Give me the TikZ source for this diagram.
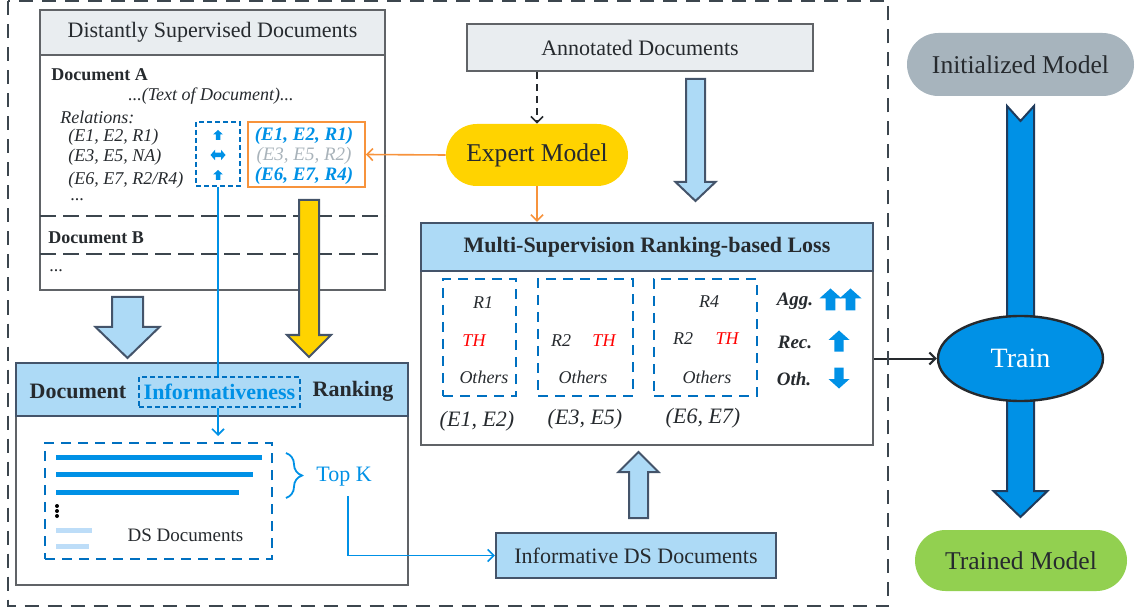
\documentclass[tikz,border=0pt]{standalone}
\usepackage{fontspec}
\setmainfont{Liberation Serif}
\usepackage{tikz}
\usetikzlibrary{shapes.geometric, shapes.misc, arrows.meta, positioning, decorations.pathreplacing}

\definecolor{edgegray}{HTML}{606367}
\definecolor{slate}{HTML}{44546A}
\definecolor{navyline}{HTML}{1F3B5C}
\definecolor{headgray}{HTML}{E9EDF0}
\definecolor{headblue}{HTML}{ADDAF6}
\definecolor{goldy}{HTML}{FFD300}
\definecolor{brightblue}{HTML}{0091E6}
\definecolor{dashblue}{HTML}{0070C0}
\definecolor{softblue}{HTML}{BDDDF8}
\definecolor{orangeline}{HTML}{F7933C}
\definecolor{initgray}{HTML}{A7B4BD}
\definecolor{leafgreen}{HTML}{92D050}
\definecolor{paleword}{HTML}{A9B3BA}
\definecolor{inkdark}{HTML}{262A2E}
\definecolor{outerdash}{HTML}{3C464E}

\newcommand{\szsmall}{\fontsize{9}{11}\selectfont}
\newcommand{\szmid}{\fontsize{11}{13}\selectfont}
\newcommand{\szpill}{\fontsize{12.8}{15}\selectfont}

\tikzstyle{panel} = [draw=edgegray, line width=1.2pt, inner sep=0pt]
\tikzstyle{graybar} = [panel, fill=headgray, font=\szmid]
\tikzstyle{bluebar} = [draw=slate, line width=1.2pt, fill=headblue, inner sep=0pt, font=\szmid]
\tikzstyle{headtxt} = [font=\szmid\bfseries, inner sep=0pt]
\tikzstyle{pill} = [rounded rectangle, inner sep=0pt, font=\szpill]
\tikzstyle{dashbox} = [draw=dashblue, line width=1pt, dash pattern=on 5pt off 3.5pt, inner sep=0pt]
\tikzstyle{finedash} = [draw=dashblue, line width=0.8pt, dash pattern=on 2.5pt off 1.5pt, inner sep=0pt]
\tikzstyle{ital} = [font=\szsmall\itshape, inner sep=0pt]
\tikzstyle{boldtxt} = [font=\szsmall\bfseries, inner sep=0pt]
\tikzstyle{boldital} = [font=\fontsize{9.5}{11}\selectfont\bfseries\itshape, inner sep=0pt]
\tikzstyle{pairtxt} = [font=\szmid\itshape, inner sep=0pt]
\tikzstyle{arrow} = [-{Straight Barb[length=3pt,width=6pt]}, line width=0.8pt]
\tikzstyle{listbar} = [line width=2.5pt, brightblue]
\tikzstyle{blockline} = [draw=slate, line width=1pt, line join=miter]

% block arrow: x, tail y, head base y, tip y, half shaft, half head, fill
\newcommand{\blockarrow}[7]{%
  \draw[blockline, fill=#7] (#1-#5,#2) -- (#1+#5,#2) -- (#1+#5,#3) -- (#1+#6,#3)
    -- (#1,#4) -- (#1-#6,#3) -- (#1-#5,#3) -- cycle;}
\newcommand{\fatup}[3]{%
  \fill[brightblue, shift={(#1,#2)}, scale=#3] (0,-1) -- (1,-0.1) -- (0.45,-0.1)
    -- (0.45,1) -- (-0.45,1) -- (-0.45,-0.1) -- (-1,-0.1) -- cycle;}
\newcommand{\fatboth}[3]{%
  \fill[brightblue, shift={(#1,#2)}, scale=#3] (-1,0) -- (-0.4,-0.7) -- (-0.4,-0.3)
    -- (0.4,-0.3) -- (0.4,-0.7) -- (1,0) -- (0.4,0.7) -- (0.4,0.3) -- (-0.4,0.3)
    -- (-0.4,0.7) -- cycle;}

\begin{document}
\begin{tikzpicture}[x=0.5pt, y=-0.5pt, every node/.style={text=inkdark}]
  \useasboundingbox (0,0) rectangle (1137,610);

  % distantly supervised documents
  \node[panel, minimum width=172.5pt, minimum height=140pt] (dsd) at (212.5,150) {};
  \node[graybar, minimum width=172.5pt, minimum height=22.5pt] (dsdhead) at (212.5,32.5) {Distantly Supervised Documents};
  \draw[outerdash, line width=1pt, dash pattern=on 8pt off 3.5pt] (40,216) -- (385,216);
  \draw[outerdash, line width=1pt, dash pattern=on 8pt off 3.5pt] (40,254) -- (385,254);
  \node[boldtxt, anchor=west] (docA) at (51,75) {Document A};
  \node[ital] (doctext) at (211,96) {...(Text of Document)...};
  \node[ital, anchor=west] (rel) at (60,117) {Relations:};
  \node[ital, anchor=west] (relA) at (68,137) {(E1, E2, R1)};
  \node[ital, anchor=west] (relB) at (68,157) {(E3, E5, NA)};
  \node[ital, anchor=west] (relC) at (68,180) {(E6, E7, R2/R4)};
  \node[font=\szsmall, inner sep=0pt, anchor=west] (relmore) at (70,200) {...};
  \node[boldtxt, anchor=west] (docB) at (48,238) {Document B};
  \node[font=\szsmall, inner sep=0pt, anchor=west] (docmore) at (49,271) {...};

  \node[finedash, minimum width=22pt, minimum height=32pt] (flag) at (218,154) {};
  \fatup{218}{135}{5}
  \fatboth{218}{155}{7.5}
  \fatup{218}{175}{5}

  \node[draw=orangeline, line width=0.8pt, minimum width=58.5pt, minimum height=32.5pt, inner sep=0pt] (picked) at (306.5,154.5) {};
  \node[boldital, text=brightblue] (pickA) at (304,136) {(E1, E2, R1)};
  \node[ital, font=\fontsize{9.5}{11}\selectfont\itshape, text=paleword] (pickB) at (304,156) {(E3, E5, R2)};
  \node[boldital, text=brightblue] (pickC) at (304,176) {(E6, E7, R4)};

  % annotated side
  \node[graybar, minimum width=173pt, minimum height=23.5pt] (annot) at (640,47.5) {Annotated Documents};
  \node[pill, fill=goldy, minimum width=91pt, minimum height=31pt] (expert) at (537,155) {Expert Model};
  \draw[arrow, inkdark, dash pattern=on 3.5pt off 2.5pt] (expert.north |- annot.south) -- (expert.north);
  \draw[arrow, orangeline] (expert.west) -- (picked.east);
  \blockarrow{695.5}{79}{182}{201}{9.5}{20}{headblue}

  % loss
  \node[panel, minimum width=226pt, minimum height=111pt] (msrl) at (647,334) {};
  \node[bluebar, font=\szmid\bfseries, minimum width=226pt, minimum height=24pt] (msrlhead) at (647,247) {Multi-Supervision Ranking-based Loss};
  \draw[arrow, orangeline] (expert.south) -- (expert.south |- msrlhead.north);

  \node[dashbox, minimum width=36.5pt, minimum height=58.5pt] (pairA) at (479.5,337.5) {};
  \node[dashbox, minimum width=47.5pt, minimum height=58.5pt] (pairB) at (585.5,337.5) {};
  \node[dashbox, minimum width=51.5pt, minimum height=58.5pt] (pairC) at (705.5,337.5) {};
  \node[ital] (aR1) at (483,303) {R1};
  \node[ital, text=red] (aTH) at (474,341) {TH};
  \node[ital] (aOth) at (484,377) {Others};
  \node[ital] (bR2) at (561,341) {R2};
  \node[ital, text=red] (bTH) at (604,341) {TH};
  \node[ital] (bOth) at (583,377) {Others};
  \node[ital] (cR4) at (709,302) {R4};
  \node[ital] (cR2) at (683,339) {R2};
  \node[ital, text=red] (cTH) at (727,339) {TH};
  \node[ital] (cOth) at (707,377) {Others};
  \node[pairtxt] (pairAtxt) at (477,421) {(E1, E2)};
  \node[pairtxt] (pairBtxt) at (585,419) {(E3, E5)};
  \node[pairtxt] (pairCtxt) at (703,418) {(E6, E7)};

  \node[boldital] (agg) at (795,301) {Agg.};
  \node[boldital] (rec) at (795,342) {Rec.};
  \node[boldital] (oth) at (794,379) {Oth.};
  \fatup{830.5}{299.5}{11}
  \fatup{850.5}{299.5}{11}
  \fatup{839}{341}{10.5}
  \fatup{839}{378}{-10.5}

  % ranking
  \blockarrow{127.5}{297}{327}{358}{15.5}{32}{headblue}
  \blockarrow{309}{200}{335}{357}{10}{22}{goldy}
  \node[panel, minimum width=196pt, minimum height=111pt] (dir) at (212,474) {};
  \node[bluebar, minimum width=196pt, minimum height=26.5pt] (dirhead) at (212,389.5) {};
  \node[headtxt] (hdoc) at (78,391) {Document};
  \node[headtxt, text=brightblue, finedash, minimum width=80.5pt, minimum height=15pt] (inform) at (219.5,392) {Informativeness};
  \node[headtxt] (hrank) at (353,391) {Ranking};

  \node[dashbox, minimum width=113.5pt, minimum height=58pt] (list) at (158.5,501) {};
  \draw[listbar] (56,457) -- (262,457);
  \draw[listbar] (56,474) -- (253,474);
  \draw[listbar] (56,492) -- (239,492);
  \foreach \dy in {506,511,516}
    \fill[black] (57,\dy) circle (1pt);
  \draw[listbar, softblue] (56,530) -- (92,530);
  \draw[listbar, softblue] (56,546) -- (89,546);
  \node[font=\fontsize{9.5}{11}\selectfont, inner sep=0pt] (dsdocs) at (185.5,535) {DS Documents};

  \draw[brightblue, line width=0.8pt] (flag.south) -- (flag.south |- inform.north);
  \draw[arrow, brightblue] (flag.south |- inform.south) -- ([yshift=3pt]flag.south |- list.north);

  \draw[brightblue, line width=0.9pt, decorate, decoration={brace, amplitude=8pt}] (286,453) -- (286,498);
  \node[font=\szmid, text=brightblue, inner sep=0pt] (topk) at (344,477) {Top K};
  \coordinate (topkfoot) at (348,496);

  \node[bluebar, minimum width=140pt, minimum height=22.5pt] (info) at (636,555.5) {Informative DS Documents};
  \draw[arrow, brightblue] (topkfoot) |- (info.west);
  \blockarrow{638.5}{518}{472}{452}{9.5}{20}{headblue}

  % training
  \node[pill, fill=initgray, minimum width=113.5pt, minimum height=31.5pt] (init) at (1020.5,64.5) {Initialized Model};
  \draw[draw=navyline, line width=1pt, fill=brightblue, line join=miter] (1007,106) -- (1020.5,121) -- (1034,106)
    -- (1034,491) -- (1047.5,491) -- (1020.5,517) -- (993.5,491) -- (1007,491) -- cycle;
  \node[ellipse, draw=inkdark, line width=1.2pt, fill=brightblue, minimum width=82.5pt, minimum height=42.5pt,
    text=white, font=\fontsize{14}{16}\selectfont] (train) at (1020.5,358.5) {Train};
  \node[pill, fill=leafgreen, minimum width=106pt, minimum height=30.5pt] (trained) at (1021,560.5) {Trained Model};
  \draw[arrow, inkdark, line width=1pt] (msrl.east |- train.west) -- (train.west);

  \draw[outerdash, line width=1pt, dash pattern=on 7pt off 4.5pt] (8,1.5) rectangle (888,606);
\end{tikzpicture}
\end{document}
